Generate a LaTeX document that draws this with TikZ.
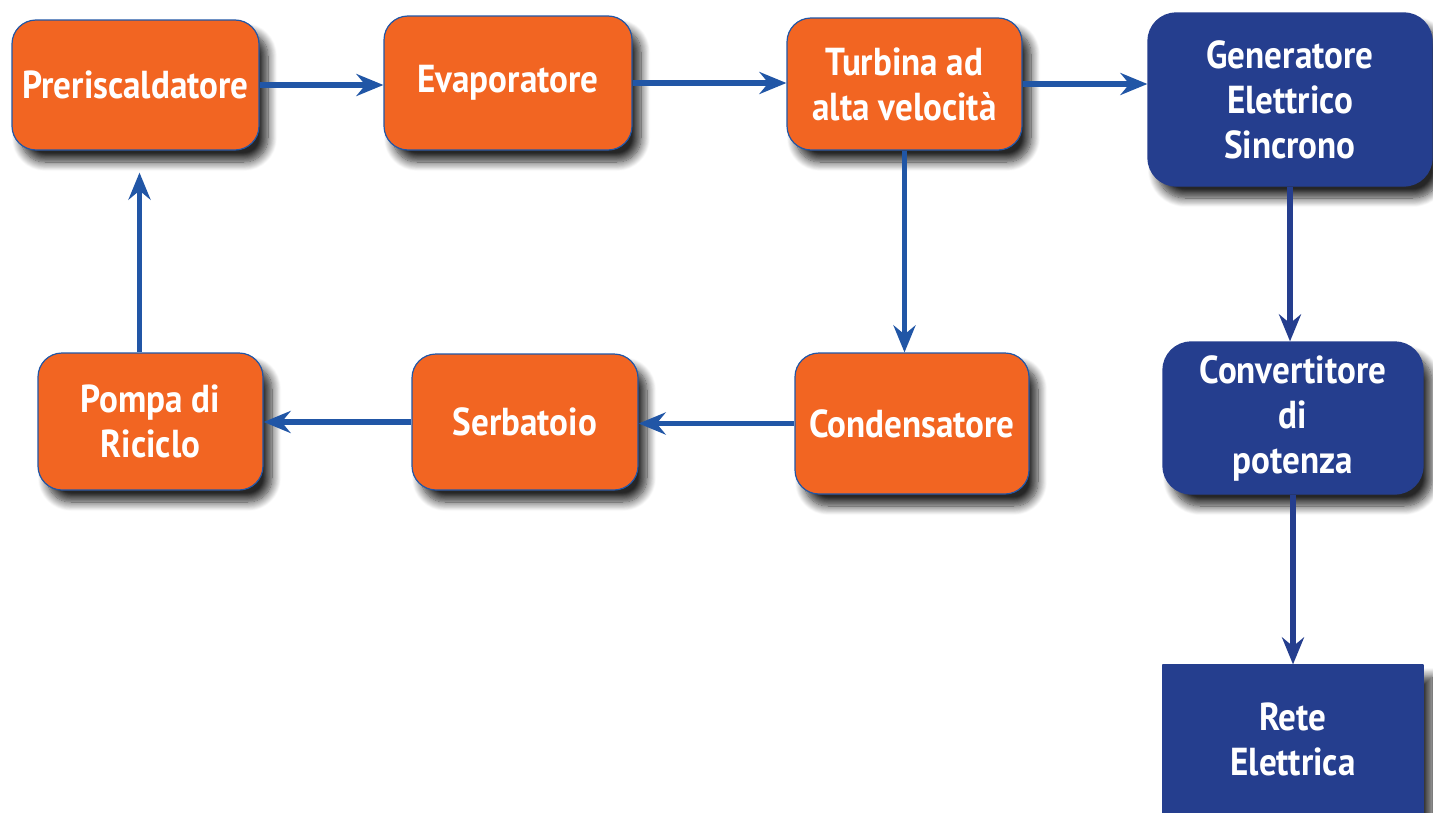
\documentclass[tikz,border=0pt]{standalone}
\usepackage{fontspec}
\setmainfont{PT Sans}[FakeStretch=0.9]
\usetikzlibrary{arrows.meta,shadows.blur}
\definecolor{arancio}{HTML}{F26522}
\definecolor{blunotte}{HTML}{253E8E}
\definecolor{bluarco}{HTML}{2156A6}
\tikzset{
  blocco/.style={draw=bluarco,line width=1.2bp,fill=arancio,rounded corners=24bp,
    text=white,align=center,inner sep=0pt,
    font=\fontsize{39bp}{45bp}\selectfont\bfseries,
    blur shadow={shadow xshift=9bp,shadow yshift=-12bp,shadow blur radius=9bp,
      shadow blur steps=12,shadow opacity=85}},
  bloccoblu/.style={blocco,draw=blunotte,fill=blunotte,rounded corners=28bp},
  fluss/.style={draw=bluarco,line width=5.5bp,
    -{Stealth[length=27bp,width=22bp,inset=9bp]}},
  flussblu/.style={fluss,draw=blunotte},
}
\begin{document}
\begin{tikzpicture}[>=latex,line join=bevel,]
        %%
        \useasboundingbox (0bp,0bp) rectangle (1433bp,-813bp);
        \node (pre) at (135.5bp,-85bp) [blocco,minimum width=247bp,minimum height=130bp] {Preriscaldatore};
        \node (eva) at (508bp,-83bp) [blocco,minimum width=248bp,minimum height=134bp] {Evaporatore};
        \node (tur) at (904.5bp,-84bp) [blocco,minimum width=235bp,minimum height=132bp] {Turbina ad\\alta velocità};
        \node (gen) at (1290bp,-99.5bp) [bloccoblu,minimum width=284bp,minimum height=173bp] {Generatore\\Elettrico\\Sincrono};
        \node (conv) at (1293bp,-418bp) [bloccoblu,minimum width=260bp,minimum height=152bp] {Convertitore\\di\\potenza};
        \node (rete) at (1293bp,-739bp) [bloccoblu,rounded corners=0bp,minimum width=260bp,minimum height=148bp] {Rete\\Elettrica};
        \node (pom) at (150.5bp,-421.5bp) [blocco,minimum width=225bp,minimum height=137bp] {Pompa di\\Riciclo};
        \node (ser) at (525bp,-422bp) [blocco,minimum width=226bp,minimum height=136bp] {Serbatoio};
        \node (cond) at (912bp,-423.5bp) [blocco,minimum width=234bp,minimum height=141bp] {Condensatore};
        \draw [fluss] (pre.east) -- (pre.east -| eva.west);
        \draw [fluss] (eva.east) -- (eva.east -| tur.west);
        \draw [fluss] (tur.east) -- (tur.east -| gen.west);
        \draw [fluss] (tur.south) -- (tur.south |- cond.north);
        \draw [fluss] (cond.west) -- (cond.west -| ser.east);
        \draw [fluss] (ser.west) -- (ser.west -| pom.east);
        \draw [fluss] ([xshift=4bp]pre.south |- pom.north) -- ([xshift=4bp,yshift=-22bp]pre.south);
        \draw [flussblu] (gen.south) -- (gen.south |- conv.north);
        \draw [flussblu] (conv.south) -- (conv.south |- rete.north);
        %
    \end{tikzpicture}
\end{document}
